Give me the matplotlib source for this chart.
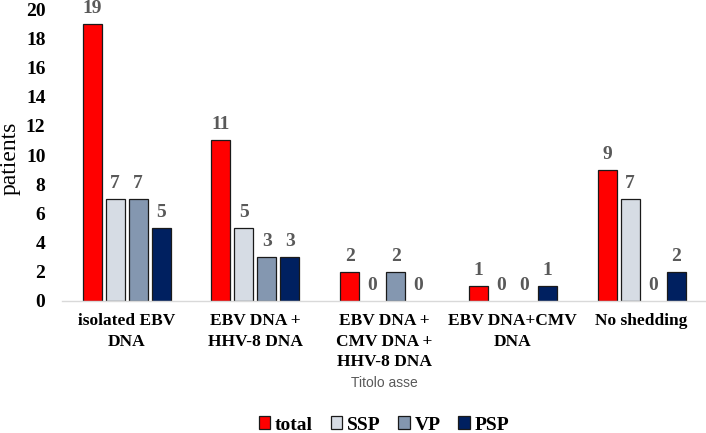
import numpy as np
import matplotlib.pyplot as plt

# Data
categories = ['isolated EBV\nDNA', 'EBV DNA +\nHHV-8 DNA', 'EBV DNA +\nCMV DNA +\nHHV-8 DNA',
              'EBV DNA+CMV\nDNA', 'No shedding']
total = [19, 11, 2, 1, 9]
ssp = [7, 5, 0, 0, 7]
vp = [7, 3, 2, 0, 0]
psp = [5, 3, 0, 1, 2]

series = [('total', total, '#FF0000'),
          ('SSP', ssp, '#D6DCE4'),
          ('VP', vp, '#8497B0'),
          ('PSP', psp, '#002060')]

serif = 'Liberation Serif'

fig = plt.figure(figsize=(7.06, 4.33), dpi=100)
ax = fig.add_axes([0.088, 0.305, 0.912, 0.674])

x = np.arange(len(categories))
step = 0.1786
width = 0.1476
for i, (name, vals, col) in enumerate(series):
    # zero bars get no outline, like in the original
    lw = [0.9 if v > 0 else 0 for v in vals]
    bars = ax.bar(x + (i - 1.5) * step, vals, width, color=col, edgecolor='#1a1a1a',
                  linewidth=lw, label=name)
    ax.bar_label(bars, padding=5, fontsize=14, fontweight='bold', color='#595959',
                 fontfamily=serif)

ax.set_xlim(-0.5, len(categories) - 0.5)
ax.set_ylim(0, 20)
ax.set_yticks(range(0, 21, 2))
ax.set_xticks(x)
ax.set_xticklabels(categories, fontsize=12.5, fontweight='bold', fontfamily=serif,
                   linespacing=1.35)
for lab in ax.get_yticklabels():
    lab.set_fontfamily(serif)
    lab.set_fontweight('bold')
    lab.set_fontsize(14)
ax.tick_params(axis='both', length=0)
ax.tick_params(axis='x', pad=9)
ax.tick_params(axis='y', pad=12)

for s in ['top', 'right', 'left']:
    ax.spines[s].set_visible(False)
ax.spines['bottom'].set_color('#D9D9D9')
ax.spines['bottom'].set_linewidth(1)

fig.text(0.0, 1 - 158 / 433, 'patients', rotation=90, ha='left', va='center',
         fontsize=17, fontfamily=serif)
fig.text(0.544, 1 - 383 / 433, 'Titolo asse', ha='center', va='center',
         fontsize=10, color='#595959', fontfamily='Liberation Sans')

leg = fig.legend(loc='center', bbox_to_anchor=(0.544, 1 - 425 / 433), ncol=4,
                 frameon=False, prop={'family': serif, 'weight': 'bold', 'size': 14},
                 handlelength=0.6, handleheight=0.6, handletextpad=0.25,
                 columnspacing=0.9)

fig.savefig('out.png', dpi=100)
